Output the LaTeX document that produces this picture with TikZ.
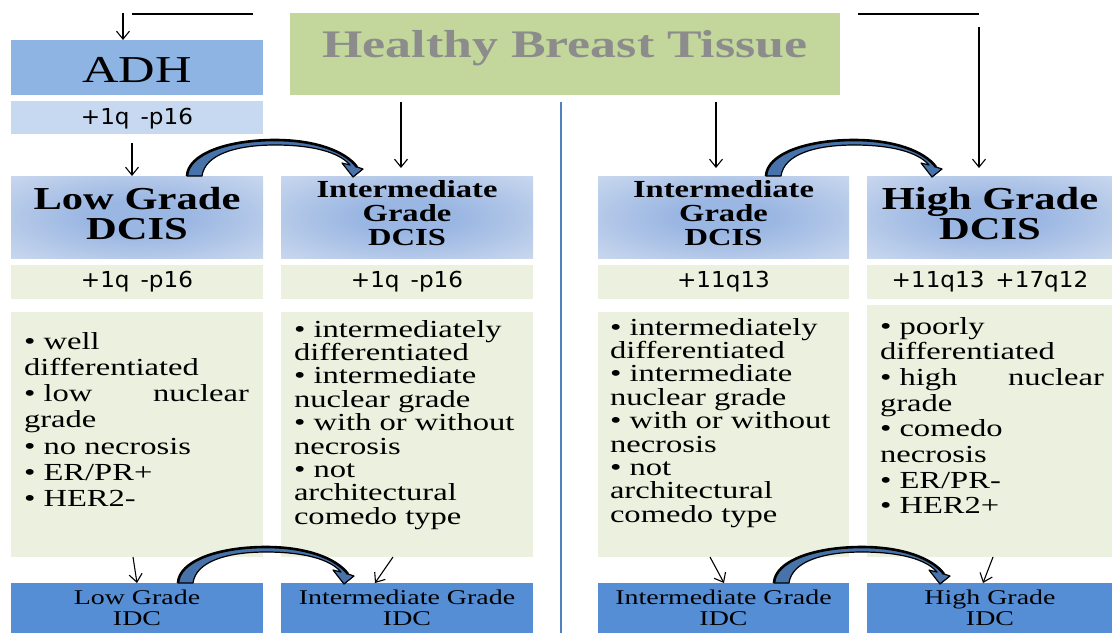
\documentclass[tikz,border=0pt]{standalone}
\usepackage{fontspec}
\setmainfont{Liberation Serif}[FakeStretch=1.33]
\newfontfamily\genefont{DejaVu Sans}[FakeStretch=1.05]
\usetikzlibrary{arrows.meta,calc}

\definecolor{adhblue}{HTML}{8EB4E3}
\definecolor{adhlight}{HTML}{C6D9F1}
\definecolor{healthygreen}{HTML}{C3D69B}
\definecolor{healthytext}{HTML}{8C8C8C}
\definecolor{panelgreen}{HTML}{EBF1DE}
\definecolor{idcblue}{HTML}{558ED5}
\definecolor{hdrin}{HTML}{9AB6E2}
\definecolor{hdrout}{HTML}{DCE5F3}
\definecolor{arrowblue}{HTML}{4773AA}
\definecolor{divider}{HTML}{4F81BD}

% soft blue glow for the DCIS headers
\pgfdeclareradialshading[hdrin,hdrout]{hdrshade}{\pgfpoint{0bp}{0bp}}{%
  color(0bp)=(hdrin); color(10bp)=(hdrin); color(46bp)=(hdrout); color(50bp)=(hdrout)}

\tikzset{
  panel/.style 2 args={anchor=north west, inner sep=0pt, outer sep=0pt,
    minimum width=#1pt, minimum height=#2pt},
  hdr/.style={shading=hdrshade},
  txt/.style={inner sep=0pt, outer sep=0pt},
  bigtitle/.style={txt, align=center, font=\bfseries\fontsize{32}{30}\selectfont},
  midtitle/.style={txt, align=center, font=\bfseries\fontsize{24.5}{24}\selectfont},
  genetxt/.style={txt, anchor=base, font=\genefont\fontsize{22}{22}\selectfont},
  idctxt/.style={txt, align=center, font=\fontsize{21}{21}\selectfont},
  bullets/.style={txt, anchor=north west, align=left},
  thinarrow/.style={line width=1.1pt, -{Straight Barb[length=8pt,width=13pt]}},
  topline/.style={line width=2pt},
}

% gap used between genetic markers
\newcommand\genegap{\hspace{0.5em}}

% curved block arrow; origin is the left edge of its tail
\newcommand\curvedarrow[1]{%
  \begin{scope}[shift={#1}]
    \filldraw[fill=arrowblue, draw=black, line width=1.2pt, line join=round]
      (0,0) .. controls (1,-22) and (40,-36) .. (88,-36)
      .. controls (128,-36) and (158,-25) .. (170,-9)
      -- (176,-7) -- (166,1) -- (155,-13) -- (163,-11)
      .. controls (152,-24) and (125,-31) .. (88,-31)
      .. controls (50,-31) and (18,-22) .. (15,0) -- cycle;
    \draw[line width=2.6pt]
      (0,0) .. controls (1,-22) and (40,-36) .. (88,-36)
      .. controls (128,-36) and (158,-25) .. (170,-9);
  \end{scope}}

\begin{document}
\begin{tikzpicture}[x=1pt, y=-1pt]
\useasboundingbox (0,0) rectangle (1112,633);

% top row
\node[panel={252}{55}, fill=adhblue] (adh) at (11,40) {};
\node[panel={252}{33}, fill=adhlight] (adhsub) at (11,101) {};
\node[panel={550}{82}, fill=healthygreen] (healthy) at (290,13) {};
\node[txt, anchor=base, font=\fontsize{38}{40}\selectfont] (adhtxt) at (137,82) {ADH};
\node[genetxt] (adhgene) at (137,124) {+1q\genegap-p16};
\node[txt, anchor=base, text=healthytext, font=\bfseries\fontsize{39}{40}\selectfont]
  (healthytxt) at (565,57) {Healthy Breast Tissue};

% DCIS headers
\node[panel={252}{82}, hdr] (lowh) at (11,176) {};
\node[panel={252}{82}, hdr] (midh) at (281,176) {};
\node[panel={251}{82}, hdr] (midhr) at (598,176) {};
\node[panel={245}{82}, hdr] (highh) at (867,176) {};
\node[bigtitle] (lowhtxt) at (137,214) {Low Grade\\DCIS};
\node[midtitle] (midhtxt) at (407,213.5) {Intermediate\\Grade\\DCIS};
\node[midtitle] (midhrtxt) at (723.5,213.5) {Intermediate\\Grade\\DCIS};
\node[bigtitle] (highhtxt) at (990,214) {High Grade\\DCIS};

% genetic changes
\node[panel={252}{34}, fill=panelgreen] (lowg) at (11,265) {};
\node[panel={252}{34}, fill=panelgreen] (midg) at (281,265) {};
\node[panel={251}{34}, fill=panelgreen] (midgr) at (598,265) {};
\node[panel={245}{34}, fill=panelgreen] (highg) at (867,265) {};
\node[genetxt] (lowgtxt) at (137,287) {+1q\genegap-p16};
\node[genetxt] (midgtxt) at (407,287) {+1q\genegap-p16};
\node[genetxt] (midgrtxt) at (723.5,287) {+11q13};
\node[genetxt] (highgtxt) at (990,287) {+11q13\genegap+17q12};

% features
\node[panel={252}{245}, fill=panelgreen] (lowb) at (11,312) {};
\node[panel={252}{245}, fill=panelgreen] (midb) at (281,312) {};
\node[panel={251}{245}, fill=panelgreen] (midbr) at (598,312) {};
\node[panel={245}{252}, fill=panelgreen] (highb) at (867,305) {};

\node[bullets, font=\fontsize{24.5}{26.3}\selectfont] (lowbtxt) at (24,331)
  {\rule{0pt}{18pt}• well\\ differentiated\\ \hbox to 225pt{• low\hfill nuclear}\\
   grade\\ • no necrosis\\ • ER/PR+\\ • HER2-};
\node[bullets, font=\fontsize{24.5}{23.4}\selectfont] (midbtxt) at (294,319)
  {\rule{0pt}{18pt}• intermediately\\ differentiated\\ • intermediate\\ nuclear grade\\
   • with or without\\ necrosis\\ • not\\ architectural\\ comedo type};
\node[bullets, font=\fontsize{24.5}{23.4}\selectfont] (midbrtxt) at (610,317)
  {\rule{0pt}{18pt}• intermediately\\ differentiated\\ • intermediate\\ nuclear grade\\
   • with or without\\ necrosis\\ • not\\ architectural\\ comedo type};
\node[bullets, font=\fontsize{24.5}{25.7}\selectfont] (highbtxt) at (880,316)
  {\rule{0pt}{18pt}• poorly\\ differentiated\\ \hbox to 224pt{• high\hfill nuclear}\\
   grade\\ • comedo\\ necrosis\\ • ER/PR-\\ • HER2+};

% invasive carcinoma
\node[panel={252}{50}, fill=idcblue] (lowi) at (11,583) {};
\node[panel={252}{50}, fill=idcblue] (midi) at (281,583) {};
\node[panel={251}{50}, fill=idcblue] (midir) at (598,583) {};
\node[panel={245}{50}, fill=idcblue] (highi) at (867,583) {};
\node[idctxt] (lowitxt) at (137,608) {Low Grade\\IDC};
\node[idctxt] (miditxt) at (407,608) {Intermediate Grade\\IDC};
\node[idctxt] (midirtxt) at (723.5,608) {Intermediate Grade\\IDC};
\node[idctxt] (highitxt) at (990,608) {High Grade\\IDC};

% divider between the two pathways
\draw[divider, line width=1.5pt] ($(healthy.south west)+(271,7)$) -- ($(midi.south west)+(280,0)$);

% top lines and arrows
\coordinate (tla) at (132,14);
\coordinate (tlb) at (253,14);
\coordinate (tra) at (858,14);
\coordinate (trb) at (979,14);
\coordinate (tlstart) at (123,13);
\coordinate (trstart) at (979,27);
\draw[topline] (tla) -- (tlb);
\draw[topline] (tra) -- (trb);
\draw[thinarrow] (tlstart) -- ($(adh.north west)+(112,0)$);
\draw[thinarrow] (trstart) -- ($(highh.north west)+(112,-8)$);
\draw[thinarrow] ($(adhsub.south west)+(121,9)$) -- ($(lowh.north west)+(121,0)$);
\draw[thinarrow] ($(healthy.south west)+(111,7)$) -- ($(midh.north west)+(120,-8)$);
\draw[thinarrow] ($(healthy.south west)+(426,7)$) -- ($(midhr.north west)+(118,-8)$);

% features to invasive carcinoma
\draw[thinarrow] ($(lowb.south west)+(122,0)$) -- ($(lowi.north west)+(126,0)$);
\draw[thinarrow] ($(midb.south west)+(112,0)$) -- ($(midi.north west)+(94,0)$);
\draw[thinarrow] ($(midbr.south west)+(112,0)$) -- ($(midir.north west)+(126,0)$);
\draw[thinarrow] ($(highb.south west)+(126,0)$) -- ($(highi.north west)+(116,0)$);

% progression arrows
\curvedarrow{($(lowh.north west)+(176,0)$)}
\curvedarrow{($(midhr.north west)+(168,0)$)}
\curvedarrow{($(lowi.north west)+(167,0)$)}
\curvedarrow{($(midir.north west)+(176,0)$)}
\end{tikzpicture}
\end{document}
